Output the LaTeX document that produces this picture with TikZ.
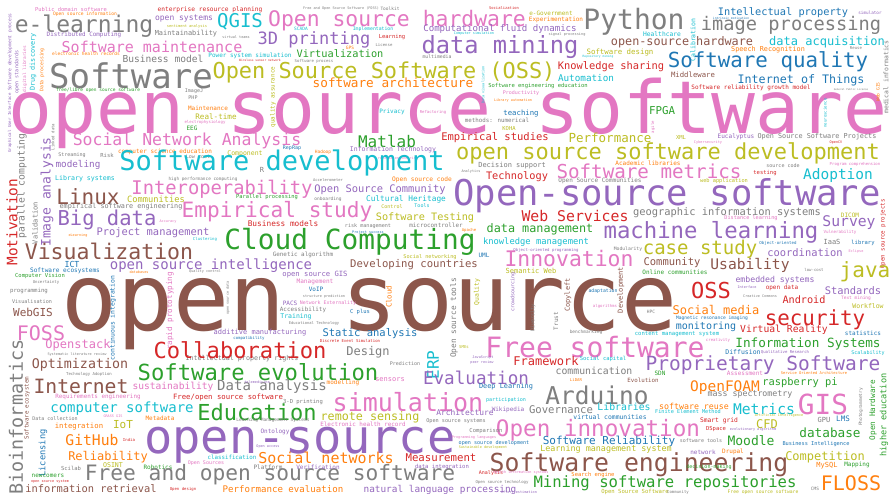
\documentclass[tikz,border=0pt]{standalone}
\usepackage{fontspec}
\setmainfont{DejaVu Sans Mono}
\definecolor{tpink}{HTML}{E377C2}
\definecolor{tbrown}{HTML}{8C564B}
\definecolor{tpurple}{HTML}{9467BD}
\definecolor{tcyan}{HTML}{17BECF}
\definecolor{tolive}{HTML}{BCBD22}
\definecolor{tgrey}{HTML}{7F7F7F}
\definecolor{tgreen}{HTML}{2CA02C}
\definecolor{tred}{HTML}{D62728}
\definecolor{torange}{HTML}{FF7F0E}
\definecolor{tblue}{HTML}{1F77B4}
\newcommand\wsz[1]{\fontsize{#1}{#1}\selectfont}
\tikzset{wd/.style={inner sep=0pt, anchor=center}}
\begin{document}
\begin{tikzpicture}[x=1pt, y=-1pt]
\fill[white] (0,0) rectangle (891,495);
\useasboundingbox (0,0) rectangle (891,495);
% the three largest phrases
\node[wd, tpink, font=\wsz{73}, anchor=base west] (w1) at (8,133) {open source software};
\node[wd, tbrown, font=\wsz{93}, anchor=base west] (w2) at (61,330) {open source};
\node[wd, tpurple, font=\wsz{47}, anchor=base west] (w3) at (144,453) {open-source};
% top band
\node[wd, tpink, font=\wsz{5.4}] (w4) at (71,9) {Public domain software};
\node[wd, torange, font=\wsz{4.6}] (w5) at (85,14) {Open source information};
\node[wd, tred, font=\wsz{6.2}] (w6) at (210,10) {enterprise resource planning};
\node[wd, tgrey, font=\wsz{23}] (w7) at (84,26) {e-learning};
\node[wd, tpurple, font=\wsz{8}] (w8) at (184,19) {open systems};
\node[wd, tolive, font=\wsz{3.7}] (w9) at (187,26) {sentiment analysis};
\node[wd, tpurple, font=\wsz{5.9}] (w10) at (84,35) {Distributed Computing};
\node[wd, tgrey, font=\wsz{6.9}] (w11) at (186,34) {Maintainability};
\node[wd, tpink, font=\wsz{15}] (w12) at (152,47) {Software maintenance};
\node[wd, torange, font=\wsz{4.5}] (w13) at (86,54) {electronic health records};
\node[wd, tgrey, font=\wsz{9.6}] (w14) at (163,59) {Business model};
\node[wd, tcyan, font=\wsz{6}] (w15) at (250,56) {Power system simulation};
\node[wd, tgrey, font=\wsz{34}] (w16) at (131,76) {Software};
\node[wd, tolive, font=\wsz{21.9}] (w17) at (384,72) {Open Source Software (OSS)};
\node[wd, tgreen, font=\wsz{4.5}] (w18) at (98,90) {free/libre open source software};
\node[wd, tgrey, font=\wsz{5}] (w19) at (194,91) {ImageJ};
\node[wd, tgrey, font=\wsz{5}] (w20) at (193,98) {PHP};
\node[wd, torange, font=\wsz{6}] (w21) at (208,108) {Maintenance};
\node[wd, tolive, font=\wsz{7.6}] (w22) at (216,117) {Real-time};
\node[wd, tpink, font=\wsz{4}] (w23) at (205,122) {electrophysiology};
\node[wd, tgreen, font=\wsz{6}] (w24) at (192,128) {EEG};
\node[wd, tpink, font=\wsz{16.5}] (w25) at (187,141) {Social Network Analysis};
\node[wd, torange, font=\wsz{6}] (w26) at (165,152) {computer science education};
\node[wd, tgrey, font=\wsz{5}] (w27) at (198,157) {Low cost};
\node[wd, tgrey, font=\wsz{5}] (w28) at (72,155) {Streaming};
\node[wd, tgrey, font=\wsz{5.5}] (w29) at (107,155) {Risk};
\node[wd, tgrey, font=\wsz{4}, rotate=90] (w30) at (53,137) {Linked data};
\node[wd, tpurple, font=\wsz{9.3}] (w31) at (78,165) {modeling};
\node[wd, tpurple, font=\wsz{4.6}, rotate=90] (w32) at (10,52) {Software development process};
\node[wd, tpurple, font=\wsz{4.1}, rotate=90] (w33) at (10,123) {Graphical User Interface};
\node[wd, tpink, font=\wsz{4.5}, rotate=90] (w34) at (25,69) {digital libraries};
\node[wd, tpurple, font=\wsz{5}, rotate=90] (w35) at (17,72) {open standards};
\node[wd, tcyan, font=\wsz{6.8}, rotate=90] (w36) at (33,62) {Drug discovery};
\node[wd, torange, font=\wsz{4.8}, rotate=90] (w37) at (42,70) {Data processing};
\node[wd, tolive, font=\wsz{5.9}, rotate=90] (w38) at (273,97) {quality assurance};
\node[wd, tpurple, font=\wsz{13}, rotate=90] (w39) at (47,192) {Image analysis};
\node[wd, tgrey, font=\wsz{9.7}, rotate=90] (w40) at (22,186) {parallel computing};
\node[wd, tred, font=\wsz{14.4}, rotate=90] (w41) at (12,222) {Motivation};
\node[wd, tgrey, font=\wsz{7}, rotate=90] (w42) at (35,223) {Validation};
\node[wd, tgrey, font=\wsz{3.5}] (w43) at (341,9) {Free and Open Source Software (FOSS)};
\node[wd, tgrey, font=\wsz{4.5}] (w44) at (390,9) {Toolkit};
\node[wd, tcyan, font=\wsz{19}] (w45) at (240,22) {QGIS};
\node[wd, tpink, font=\wsz{21.4}] (w46) at (397,21) {Open source hardware};
\node[wd, tgrey, font=\wsz{3.5}] (w47) at (236,37) {virtual teams};
\node[wd, tcyan, font=\wsz{4.5}] (w48) at (301,29) {SCADA};
\node[wd, tcyan, font=\wsz{4.8}] (w49) at (373,29) {Implementation};
\node[wd, tpurple, font=\wsz{17}] (w50) at (314,40) {3D printing};
\node[wd, tred, font=\wsz{5.5}] (w51) at (392,37) {Learning};
\node[wd, tpurple, font=\wsz{9.1}] (w52) at (500,29) {Computational fluid dynamics};
\node[wd, tgrey, font=\wsz{4}] (w53) at (384,45) {License};
\node[wd, torange, font=\wsz{4.5}] (w54) at (350,48) {GPS};
\node[wd, tgreen, font=\wsz{10.3}] (w55) at (340,54) {Virtualization};
\node[wd, tgrey, font=\wsz{4}] (w56) at (314,61) {Software process};
\node[wd, tred, font=\wsz{3}] (w57) at (260,60) {Wireless sensor network};
\node[wd, tgrey, font=\wsz{4.8}] (w58) at (437,57) {multimedia};
\node[wd, torange, font=\wsz{12.7}] (w59) at (393,83) {software architecture};
\node[wd, tcyan, font=\wsz{6}] (w60) at (392,112) {Privacy};
\node[wd, tpink, font=\wsz{4}] (w61) at (433,112) {Refactoring};
\node[wd, tgreen, font=\wsz{16}] (w62) at (387,141) {Matlab};
\node[wd, tolive, font=\wsz{6.5}] (w63) at (245,154) {Component};
\node[wd, tblue, font=\wsz{5}] (w64) at (292,148) {RepRap};
\node[wd, torange, font=\wsz{4.5}] (w65) at (323,152) {Hadoop};
\node[wd, tpurple, font=\wsz{6.5}] (w66) at (393,150) {Information Technology};
\node[wd, tpink, font=\wsz{3.5}] (w67) at (398,159) {reverse engineering};
\node[wd, tred, font=\wsz{10.5}] (w68) at (495,138) {Empirical studies};
\node[wd, tcyan, font=\wsz{27}] (w69) at (282,163) {Software development};
\node[wd, tred, font=\wsz{3.8}] (w70) at (504,8) {Socialization};
\node[wd, tolive, font=\wsz{6}] (w71) at (551,13) {e-Government};
\node[wd, torange, font=\wsz{6}] (w72) at (556,20) {Experimentation};
\node[wd, tgrey, font=\wsz{28}] (w73) at (634,22) {Python};
\node[wd, tcyan, font=\wsz{3.5}] (w74) at (474,34) {Computer simulation};
\node[wd, tgrey, font=\wsz{3.6}] (w75) at (567,35) {signal processing};
\node[wd, tcyan, font=\wsz{6.3}] (w76) at (662,34) {Healthcare};
\node[wd, tpurple, font=\wsz{23.7}] (w77) at (500,47) {data mining};
\node[wd, tbrown, font=\wsz{11.8}] (w78) at (682,42) {open-source hardware};
\node[wd, tolive, font=\wsz{7.4}] (w79) at (620,52) {Software design};
\node[wd, tcyan, font=\wsz{3}] (w80) at (598,57) {Repository mining};
\node[wd, tred, font=\wsz{10.4}] (w81) at (611,67) {Knowledge sharing};
\node[wd, tcyan, font=\wsz{9.3}] (w82) at (586,78) {Automation};
\node[wd, tgreen, font=\wsz{5.5}] (w83) at (538,86) {Software engineering education};
\node[wd, tpink, font=\wsz{5}] (w84) at (521,93) {Productivity};
\node[wd, torange, font=\wsz{3.5}] (w85) at (513,101) {Library automation};
\node[wd, tblue, font=\wsz{7.3}] (w86) at (521,114) {teaching};
\node[wd, tgrey, font=\wsz{5.8}] (w87) at (497,120) {methods: numerical};
\node[wd, tgreen, font=\wsz{10.8}] (w88) at (662,111) {FPGA};
\node[wd, tolive, font=\wsz{5.5}] (w89) at (509,128) {KOHA};
\node[wd, tolive, font=\wsz{12.5}] (w90) at (610,138) {Performance};
\node[wd, torange, font=\wsz{6}] (w91) at (648,163) {Academic libraries};
\node[wd, tgrey, font=\wsz{7}] (w92) at (512,166) {Decision support};
\node[wd, tolive, font=\wsz{22}] (w93) at (668,153) {open source software development};
\node[wd, tcyan, font=\wsz{3.5}, rotate=90] (w94) at (483,85) {Data visualization};
\node[wd, tpink, font=\wsz{4}, rotate=90] (w95) at (653,127) {agile};
\node[wd, tblue, font=\wsz{10.3}] (w96) at (783,13) {Intellectual property};
\node[wd, tpurple, font=\wsz{4.3}] (w97) at (870,13) {simulator};
\node[wd, tblue, font=\wsz{3}] (w98) at (731,18) {intrinsic motivation};
\node[wd, tcyan, font=\wsz{6.5}, rotate=90] (w99) at (693,40) {Calibration};
\node[wd, tgrey, font=\wsz{18.7}] (w100) at (791,25) {image processing};
\node[wd, tcyan, font=\wsz{12}] (w101) at (827,42) {data acquisition};
\node[wd, torange, font=\wsz{6.8}] (w102) at (768,50) {Speech Recognition};
\node[wd, tgrey, font=\wsz{4}] (w103) at (856,48) {Reuse};
\node[wd, tgrey, font=\wsz{6.4}, rotate=90] (w104) at (886,77) {medical informatics};
\node[wd, tblue, font=\wsz{20.8}] (w105) at (768,62) {Software quality};
\node[wd, tbrown, font=\wsz{7.3}] (w106) at (693,75) {Middleware};
\node[wd, tblue, font=\wsz{11.7}] (w107) at (801,80) {Internet of Things};
\node[wd, torange, font=\wsz{4.5}, rotate=90] (w108) at (878,92) {Web GIS};
\node[wd, tred, font=\wsz{6}] (w109) at (751,88) {Software reliability growth model};
\node[wd, tolive, font=\wsz{5.5}] (w110) at (681,137) {XML};
\node[wd, tpurple, font=\wsz{6.1}] (w111) at (736,137) {Eucalyptus};
\node[wd, tgrey, font=\wsz{6.8}] (w112) at (817,137) {Open Source Software Projects};
\node[wd, tpink, font=\wsz{3.6}] (w113) at (708,143) {Cybersecurity};
\node[wd, tred, font=\wsz{3.5}] (w114) at (836,143) {OpenCV};
\node[wd, tpink, font=\wsz{4}] (w115) at (855,164) {Program comprehension};
\node[wd, tcyan, font=\wsz{4}, rotate=90] (w116) at (825,113) {neuroscience};
\node[wd, tgrey, font=\wsz{2.6}] (w117) at (851,90) {General Public License};
% left and centre
\node[wd, tcyan, font=\wsz{6.6}] (w118) at (85,179) {Library systems};
\node[wd, tgrey, font=\wsz{4.4}] (w119) at (203,179) {high performance computing};
\node[wd, tbrown, font=\wsz{21}] (w120) at (88,197) {Linux};
\node[wd, tpink, font=\wsz{18.8}] (w121) at (222,189) {Interoperability};
\node[wd, tolive, font=\wsz{8.7}] (w122) at (156,199) {Communities};
\node[wd, tgrey, font=\wsz{6.8}] (w123) at (121,207) {empirical software engineering};
\node[wd, tpink, font=\wsz{21.1}] (w124) at (277,212) {Empirical study};
\node[wd, tpurple, font=\wsz{20.5}] (w125) at (107,220) {Big data};
\node[wd, tpurple, font=\wsz{10.4}] (w126) at (153,233) {Project management};
\node[wd, tbrown, font=\wsz{21.5}] (w127) at (109,251) {Visualization};
\node[wd, tblue, font=\wsz{8.3}] (w128) at (72,264) {ICT};
\node[wd, tpurple, font=\wsz{14}] (w129) at (211,266) {open source intelligence};
\node[wd, tblue, font=\wsz{6.1}] (w130) at (65,271) {Software ecosystems};
\node[wd, tgreen, font=\wsz{5.5}] (w131) at (40,276) {Computer Vision};
\node[wd, tgrey, font=\wsz{4}] (w132) at (46,282) {Uncertainty};
\node[wd, tblue, font=\wsz{6.4}, rotate=90] (w133) at (113,318) {continuous integration};
\node[wd, tpink, font=\wsz{7.6}, rotate=90] (w134) at (170,311) {rapid prototyping};
\node[wd, tgrey, font=\wsz{5.7}] (w135) at (29,291) {programming};
\node[wd, tgrey, font=\wsz{5.1}] (w136) at (32,302) {Visualisation};
\node[wd, tbrown, font=\wsz{11}] (w137) at (33,312) {WebGIS};
\node[wd, tpink, font=\wsz{20}] (w138) at (41,333) {FOSS};
\node[wd, tcyan, font=\wsz{4}] (w139) at (205,239) {Clustering};
\node[wd, tpink, font=\wsz{3.5}] (w140) at (168,222) {Accuracy};
\node[wd, torange, font=\wsz{3.5}] (w141) at (78,236) {eLearning};
\node[wd, torange, font=\wsz{3.5}] (w142) at (139,272) {databases};
\node[wd, tgrey, font=\wsz{3.5}] (w143) at (205,272) {Quality control};
\node[wd, tgrey, font=\wsz{7}] (w144) at (262,170) {R};
\node[wd, tgrey, font=\wsz{3.8}] (w145) at (328,180) {Accelerometer};
\node[wd, torange, font=\wsz{6.2}] (w146) at (422,180) {Open source code};
\node[wd, tpurple, font=\wsz{10.4}] (w147) at (380,190) {Open Source Community};
\node[wd, tgreen, font=\wsz{5.4}] (w148) at (267,197) {Parallel processing};
\node[wd, tgrey, font=\wsz{4.5}] (w149) at (328,199) {onboarding};
\node[wd, tcyan, font=\wsz{7.8}] (w150) at (406,199) {Cultural Heritage};
\node[wd, tolive, font=\wsz{5}] (w151) at (392,207) {Control};
\node[wd, tcyan, font=\wsz{5}] (w152) at (422,206) {Tools};
\node[wd, tolive, font=\wsz{10.2}] (w153) at (425,218) {Software Testing};
\node[wd, tred, font=\wsz{7.8}] (w154) at (283,224) {Business models};
\node[wd, tgrey, font=\wsz{5.1}] (w155) at (368,226) {risk management};
\node[wd, tgrey, font=\wsz{5.9}] (w156) at (436,225) {microcontroller};
\node[wd, tblue, font=\wsz{3.5}] (w157) at (368,233) {Project success};
\node[wd, tgreen, font=\wsz{27.8}] (w158) at (350,242) {Cloud Computing};
\node[wd, tgrey, font=\wsz{5.9}] (w159) at (303,255) {Genetic algorithm};
\node[wd, tolive, font=\wsz{5.2}] (w160) at (430,257) {Social networking};
\node[wd, tbrown, font=\wsz{10.6}] (w161) at (414,265) {Developing countries};
\node[wd, tpurple, font=\wsz{7.2}] (w162) at (315,275) {open source GIS};
\node[wd, tpink, font=\wsz{6.1}] (w163) at (315,282) {Management};
\node[wd, tblue, font=\wsz{6}] (w164) at (316,289) {VoIP};
\node[wd, tgrey, font=\wsz{3.5}] (w165) at (324,297) {structure prediction};
\node[wd, tpurple, font=\wsz{6}] (w166) at (290,303) {PACS};
\node[wd, tpink, font=\wsz{4.9}] (w167) at (328,303) {Network Externality};
\node[wd, tgrey, font=\wsz{5.9}] (w168) at (303,310) {Accessibility};
\node[wd, tcyan, font=\wsz{6.5}] (w169) at (296,317) {Training};
\node[wd, tblue, font=\wsz{5.5}] (w170) at (360,312) {C plus};
\node[wd, tgrey, font=\wsz{3.8}] (w171) at (314,323) {Educational Technology};
\node[wd, torange, font=\wsz{7.3}, rotate=90] (w172) at (389,297) {Cloud};
\node[wd, tgrey, font=\wsz{3.5}, rotate=90] (w173) at (228,298) {open source data};
\node[wd, tred, font=\wsz{10.3}] (w174) at (517,177) {Technology};
\node[wd, tgrey, font=\wsz{6}] (w175) at (600,181) {Open Source Communities};
\node[wd, tpink, font=\wsz{19.2}] (w176) at (649,171) {Software metrics};
\node[wd, tpurple, font=\wsz{35.5}] (w177) at (667,196) {Open-source software};
\node[wd, tred, font=\wsz{14.8}] (w178) at (575,216) {Web Services};
\node[wd, tgrey, font=\wsz{10.4}] (w179) at (727,213) {geographic information systems};
\node[wd, tgreen, font=\wsz{11.8}] (w180) at (540,229) {data management};
\node[wd, tpurple, font=\wsz{22.3}] (w181) at (711,232) {machine learning};
\node[wd, tcyan, font=\wsz{8.8}] (w182) at (536,242) {knowledge management};
\node[wd, tpurple, font=\wsz{4}] (w183) at (546,250) {Object-oriented programming};
\node[wd, tgrey, font=\wsz{4.7}] (w184) at (628,249) {Modularity};
\node[wd, tblue, font=\wsz{6}] (w185) at (484,255) {UML};
\node[wd, tolive, font=\wsz{19}] (w186) at (700,249) {case study};
\node[wd, tpink, font=\wsz{21.4}] (w187) at (569,259) {Innovation};
\node[wd, tbrown, font=\wsz{10.5}] (w188) at (672,263) {Community};
\node[wd, tolive, font=\wsz{7}] (w189) at (531,271) {Semantic Web};
\node[wd, tgreen, font=\wsz{6}] (w190) at (675,272) {Online communities};
\node[wd, tolive, font=\wsz{6.4}, rotate=90] (w191) at (477,292) {Quality};
\node[wd, tgrey, font=\wsz{7.8}, rotate=90] (w192) at (454,318) {Open source tools};
\node[wd, tpurple, font=\wsz{5}, rotate=90] (w193) at (513,292) {crowdsourcing};
\node[wd, tbrown, font=\wsz{6.9}, rotate=90] (w194) at (568,295) {Copyleft};
\node[wd, tbrown, font=\wsz{7}, rotate=90] (w195) at (621,290) {Development};
\node[wd, tblue, font=\wsz{4.8}] (w196) at (603,291) {adaptation};
\node[wd, tgrey, font=\wsz{6}, rotate=90] (w197) at (556,321) {Trust};
\node[wd, tgrey, font=\wsz{5}, rotate=90] (w198) at (533,318) {Diversity};
\node[wd, tpink, font=\wsz{4}] (w199) at (605,306) {algorithms};
\node[wd, tgrey, font=\wsz{4.5}] (w200) at (651,312) {HPC};
\node[wd, torange, font=\wsz{4}] (w201) at (469,230) {Apache};
\node[wd, tgrey, font=\wsz{3.5}] (w202) at (471,172) {Analytics};
% right side
\node[wd, tred, font=\wsz{5.5}] (w203) at (765,173) {testing};
\node[wd, tgrey, font=\wsz{5}] (w204) at (783,166) {source code};
\node[wd, tcyan, font=\wsz{14.5}] (w205) at (838,175) {Adoption};
\node[wd, tolive, font=\wsz{5.3}] (w206) at (724,181) {web application};
\node[wd, tolive, font=\wsz{6}] (w207) at (850,215) {DICOM};
\node[wd, tpink, font=\wsz{5.2}] (w208) at (751,218) {Distance learning};
\node[wd, tpurple, font=\wsz{14.7}] (w209) at (849,223) {Survey};
\node[wd, tpink, font=\wsz{4.2}] (w210) at (840,232) {Vulnerability};
\node[wd, tblue, font=\wsz{4.1}] (w211) at (778,243) {Object-oriented};
\node[wd, tgrey, font=\wsz{7}] (w212) at (832,242) {IaaS};
\node[wd, tblue, font=\wsz{5.5}] (w213) at (863,243) {library};
\node[wd, tpink, font=\wsz{3.5}] (w214) at (856,252) {Eclipse};
\node[wd, tred, font=\wsz{5.8}, rotate=90] (w215) at (883,234) {Open source projects};
\node[wd, tpurple, font=\wsz{10.4}] (w216) at (805,253) {coordination};
\node[wd, tbrown, font=\wsz{14.6}] (w217) at (750,265) {Usability};
\node[wd, tgrey, font=\wsz{4}] (w218) at (814,270) {low-cost};
\node[wd, tolive, font=\wsz{21}] (w219) at (865,272) {java};
\node[wd, tpurple, font=\wsz{8.2}] (w220) at (775,280) {embedded systems};
\node[wd, tred, font=\wsz{22}] (w221) at (711,290) {OSS};
\node[wd, tred, font=\wsz{6}] (w222) at (782,288) {open data};
\node[wd, tpurple, font=\wsz{10.4}] (w223) at (853,291) {Standards};
\node[wd, tred, font=\wsz{10.2}] (w224) at (804,300) {Android};
\node[wd, tpink, font=\wsz{4.5}] (w225) at (856,298) {Text mining};
\node[wd, tolive, font=\wsz{6.5}] (w226) at (868,306) {Workflow};
\node[wd, torange, font=\wsz{12}] (w227) at (716,310) {Social media};
\node[wd, tred, font=\wsz{20.8}] (w228) at (815,320) {security};
\node[wd, tblue, font=\wsz{4.6}] (w229) at (712,318) {Magnetic resonance imaging};
\node[wd, tblue, font=\wsz{10}] (w230) at (706,327) {monitoring};
\node[wd, tred, font=\wsz{9.7}] (w231) at (784,330) {Virtual Reality};
\node[wd, tgrey, font=\wsz{3.5}] (w232) at (760,296) {Creative Commons};
\node[wd, tpurple, font=\wsz{3.5}] (w233) at (747,287) {Interface};
% bottom band
\node[wd, tpink, font=\wsz{12}] (w234) at (78,345) {Openstack};
\node[wd, tgrey, font=\wsz{3.5}] (w235) at (77,355) {Systematic literature review};
\node[wd, tgrey, font=\wsz{18.4}, rotate=90] (w236) at (16,417) {Bioinformatics};
\node[wd, tbrown, font=\wsz{13.3}] (w237) at (80,365) {Optimization};
\node[wd, tgrey, font=\wsz{4}] (w238) at (89,374) {Technology Adoption};
\node[wd, tgrey, font=\wsz{6.7}] (w239) at (242,359) {Intellectual property rights};
\node[wd, tpurple, font=\wsz{7}] (w240) at (260,333) {additive manufacturing};
\node[wd, tred, font=\wsz{22.1}] (w241) at (240,350) {Collaboration};
\node[wd, tgreen, font=\wsz{22.2}] (w242) at (258,372) {Software evolution};
\node[wd, tbrown, font=\wsz{19.7}] (w243) at (81,386) {Internet};
\node[wd, tpink, font=\wsz{9.6}] (w244) at (173,387) {sustainability};
\node[wd, tgrey, font=\wsz{14}] (w245) at (272,387) {Data analysis};
\node[wd, tpink, font=\wsz{5.9}] (w246) at (98,397) {Requirements engineering};
\node[wd, tred, font=\wsz{7.3}] (w247) at (228,397) {Free/open source software};
\node[wd, tcyan, font=\wsz{14}] (w248) at (122,409) {computer software};
\node[wd, tgreen, font=\wsz{22}] (w249) at (257,412) {Education};
\node[wd, tbrown, font=\wsz{5.8}, rotate=90] (w250) at (27,408) {Software ecosystem};
\node[wd, tgrey, font=\wsz{5}] (w251) at (55,419) {Data collection};
\node[wd, tpink, font=\wsz{3.5}] (w252) at (113,416) {GRASS GIS};
\node[wd, torange, font=\wsz{6}] (w253) at (160,418) {Metadata};
\node[wd, torange, font=\wsz{7.3}] (w254) at (79,427) {integration};
\node[wd, tolive, font=\wsz{11}] (w255) at (123,425) {IoT};
\node[wd, torange, font=\wsz{14.7}] (w256) at (92,440) {GitHub};
\node[wd, tred, font=\wsz{4}] (w257) at (129,440) {India};
\node[wd, tblue, font=\wsz{8.7}, rotate=90] (w258) at (43,453) {Licensing};
\node[wd, torange, font=\wsz{12}] (w259) at (108,457) {Reliability};
\node[wd, tcyan, font=\wsz{5.8}] (w260) at (232,457) {classification};
\node[wd, tolive, font=\wsz{6.6}] (w261) at (113,465) {OSINT};
\node[wd, tgrey, font=\wsz{5.5}] (w262) at (71,468) {Scilab};
\node[wd, tgreen, font=\wsz{6}] (w263) at (158,467) {Robotics};
\node[wd, tpink, font=\wsz{5}] (w264) at (206,463) {Open Sources};
\node[wd, tgrey, font=\wsz{21.2}] (w265) at (270,475) {Free and open source software};
\node[wd, tgreen, font=\wsz{6}] (w266) at (48,476) {newcomers};
\node[wd, tred, font=\wsz{3.5}] (w267) at (50,482) {open source system};
\node[wd, tbrown, font=\wsz{10.4}] (w268) at (91,489) {information retrieval};
\node[wd, tred, font=\wsz{4}] (w269) at (183,489) {Open design};
\node[wd, tpurple, font=\wsz{3.5}] (w270) at (257,382) {telemedicine};
\node[wd, tblue, font=\wsz{4}] (w271) at (249,338) {compatibility};
\node[wd, tblue, font=\wsz{10.5}] (w272) at (370,334) {Static analysis};
\node[wd, tred, font=\wsz{4}] (w273) at (350,341) {Discrete Event Simulation};
\node[wd, tgrey, font=\wsz{12}] (w274) at (368,352) {Design};
\node[wd, tcyan, font=\wsz{16}, rotate=90] (w275) at (433,365) {ERP};
\node[wd, tgrey, font=\wsz{5}] (w276) at (405,364) {Prediction};
\node[wd, tpurple, font=\wsz{17.6}] (w277) at (476,378) {Evaluation};
\node[wd, tpink, font=\wsz{7}] (w278) at (390,380) {sensors};
\node[wd, torange, font=\wsz{6}] (w279) at (343,383) {modelling};
\node[wd, tgrey, font=\wsz{5.5}] (w280) at (303,402) {3-D printing};
\node[wd, tpink, font=\wsz{25}] (w281) at (408,402) {simulation};
\node[wd, tolive, font=\wsz{11.7}] (w282) at (370,417) {remote sensing};
\node[wd, tgrey, font=\wsz{4.5}] (w283) at (273,420) {Learning Management Systems};
\node[wd, tpink, font=\wsz{5.9}] (w284) at (363,424) {Electronic health record};
\node[wd, tpurple, font=\wsz{7.9}] (w285) at (465,413) {Architecture};
\node[wd, tgrey, font=\wsz{5.2}] (w286) at (456,421) {Open source systems};
\node[wd, tpurple, font=\wsz{6}] (w287) at (275,432) {Ontology};
\node[wd, tpurple, font=\wsz{3.5}] (w288) at (268,447) {Open access};
\node[wd, torange, font=\wsz{15}] (w289) at (326,458) {Social networks};
\node[wd, tred, font=\wsz{10.7}] (w290) at (441,458) {Measurement};
\node[wd, tgrey, font=\wsz{6}] (w291) at (268,467) {Platform};
\node[wd, tpurple, font=\wsz{6}] (w292) at (318,467) {Verification};
\node[wd, tpurple, font=\wsz{5.6}] (w293) at (442,467) {data integration};
\node[wd, torange, font=\wsz{9.1}] (w294) at (283,489) {Performance evaluation};
\node[wd, tpurple, font=\wsz{9.4}] (w295) at (440,490) {natural language processing};
\node[wd, tolive, font=\wsz{4}] (w296) at (464,347) {SMEs};
\node[wd, tpink, font=\wsz{28}] (w297) at (595,347) {Free software};
\node[wd, tpurple, font=\wsz{3.5}] (w298) at (483,358) {JavaScript};
\node[wd, tpurple, font=\wsz{3.5}] (w299) at (482,363) {peer review};
\node[wd, tred, font=\wsz{12}] (w300) at (546,361) {Framework};
\node[wd, tcyan, font=\wsz{5.5}] (w301) at (603,359) {Social capital};
\node[wd, tgrey, font=\wsz{4.5}] (w302) at (586,332) {benchmarking};
\node[wd, tcyan, font=\wsz{5.6}] (w303) at (677,334) {content management system};
\node[wd, tpurple, font=\wsz{19.5}] (w304) at (763,365) {Proprietary Software};
\node[wd, tgrey, font=\wsz{9.8}] (w305) at (594,371) {communication};
\node[wd, tgreen, font=\wsz{6}] (w306) at (660,373) {SDN};
\node[wd, tbrown, font=\wsz{5.8}] (w307) at (643,380) {Evolution};
\node[wd, torange, font=\wsz{4}] (w308) at (576,380) {LiDAR};
\node[wd, tgrey, font=\wsz{24.5}] (w309) at (597,395) {Arduino};
\node[wd, tblue, font=\wsz{6.9}] (w310) at (506,387) {Deep Learning};
\node[wd, tcyan, font=\wsz{5.1}] (w311) at (506,400) {participation};
\node[wd, tpurple, font=\wsz{6}] (w312) at (508,410) {Wikipedia};
\node[wd, tgrey, font=\wsz{10.6}] (w313) at (561,410) {Governance};
\node[wd, tcyan, font=\wsz{9.8}] (w314) at (624,407) {Libraries};
\node[wd, tblue, font=\wsz{6.4}] (w315) at (610,417) {virtual communities};
\node[wd, tpink, font=\wsz{22.6}] (w316) at (598,430) {Open innovation};
\node[wd, tgrey, font=\wsz{5.5}] (w317) at (486,431) {Comparison};
\node[wd, tpink, font=\wsz{3.5}] (w318) at (474,438) {Programming languages};
\node[wd, tblue, font=\wsz{5.1}] (w319) at (494,443) {open source development};
\node[wd, tolive, font=\wsz{3.5}] (w320) at (483,448) {Sustainable development};
\node[wd, tblue, font=\wsz{11}] (w321) at (609,441) {Software Reliability};
\node[wd, tolive, font=\wsz{8.4}] (w322) at (606,449) {Learning management system};
\node[wd, tbrown, font=\wsz{24.8}] (w323) at (639,465) {Software engineering};
\node[wd, tred, font=\wsz{5}] (w324) at (491,473) {Analysis};
\node[wd, tpink, font=\wsz{3.5}] (w325) at (521,473) {Health information systems};
\node[wd, torange, font=\wsz{5.5}] (w326) at (593,475) {Search engine};
\node[wd, tgrey, font=\wsz{4}] (w327) at (502,482) {Open source technology};
\node[wd, tgreen, font=\wsz{15.6}] (w328) at (665,483) {Mining software repositories};
\node[wd, tpurple, font=\wsz{3.5}] (w329) at (519,492) {effort estimation};
\node[wd, tolive, font=\wsz{5.6}] (w330) at (635,492) {Open Source Software};
\node[wd, tpink, font=\wsz{4}] (w331) at (718,340) {creativity};
\node[wd, tblue, font=\wsz{6}] (w332) at (863,333) {statistics};
\node[wd, tgreen, font=\wsz{12.7}] (w333) at (808,344) {Information Systems};
\node[wd, tblue, font=\wsz{6.5}] (w334) at (743,352) {Diffusion};
\node[wd, tpurple, font=\wsz{4}] (w335) at (785,352) {Qualitative Research};
\node[wd, tcyan, font=\wsz{5}] (w336) at (868,353) {Scalability};
\node[wd, tpink, font=\wsz{6}] (w337) at (745,373) {Assessment};
\node[wd, torange, font=\wsz{3.8}] (w338) at (814,373) {Service Oriented Architecture};
\node[wd, torange, font=\wsz{14.5}] (w339) at (725,388) {OpenFOAM};
\node[wd, tgreen, font=\wsz{10.4}] (w340) at (800,383) {raspberry pi};
\node[wd, tgrey, font=\wsz{8.3}] (w341) at (750,394) {mass spectrometry};
\node[wd, tgrey, font=\wsz{4.5}, rotate=90] (w342) at (861,407) {Photogrammetry};
\node[wd, tgreen, font=\wsz{7.7}, rotate=90] (w343) at (873,410) {Open Hardware};
\node[wd, tgreen, font=\wsz{8.6}, rotate=90] (w344) at (884,415) {higher education};
\node[wd, tpink, font=\wsz{27.7}] (w345) at (823,404) {GIS};
\node[wd, torange, font=\wsz{8.3}] (w346) at (694,406) {software reuse};
\node[wd, tcyan, font=\wsz{5.2}] (w347) at (688,412) {Finite Element Method};
\node[wd, tcyan, font=\wsz{14.7}] (w348) at (764,409) {Metrics};
\node[wd, tolive, font=\wsz{3.5}] (w349) at (779,416) {Artificial Intelligence};
\node[wd, tred, font=\wsz{6.3}] (w350) at (719,421) {Smart grid};
\node[wd, tolive, font=\wsz{12}] (w351) at (767,424) {CFD};
\node[wd, tgrey, font=\wsz{7}] (w352) at (824,420) {GPU};
\node[wd, tblue, font=\wsz{7.5}] (w353) at (843,419) {LMS};
\node[wd, tred, font=\wsz{5.5}] (w354) at (716,429) {DSpace};
\node[wd, tpurple, font=\wsz{3.5}] (w355) at (753,430) {evolutionary algorithm};
\node[wd, tgreen, font=\wsz{12.7}] (w356) at (830,433) {database};
\node[wd, tgreen, font=\wsz{13}] (w357) at (751,441) {Moodle};
\node[wd, tgrey, font=\wsz{5}] (w358) at (701,441) {software tools};
\node[wd, tblue, font=\wsz{5.3}] (w359) at (816,444) {Business Intelligence};
\node[wd, tpurple, font=\wsz{6}] (w360) at (703,452) {network};
\node[wd, torange, font=\wsz{6}] (w361) at (733,452) {Drupal};
\node[wd, tolive, font=\wsz{12}] (w362) at (825,457) {Competition};
\node[wd, torange, font=\wsz{7}] (w363) at (827,466) {MySQL};
\node[wd, tgreen, font=\wsz{6}] (w364) at (857,465) {Mapping};
\node[wd, tgreen, font=\wsz{5}] (w365) at (709,467) {decision-making};
\node[wd, torange, font=\wsz{20}] (w366) at (851,483) {FLOSS};
\node[wd, tgrey, font=\wsz{4.5}] (w367) at (815,489) {CMS};
\node[wd, tgrey, font=\wsz{4}] (w368) at (678,492) {Community};
\node[wd, tolive, font=\wsz{4.7}] (w369) at (763,492) {Free open source software};
\end{tikzpicture}
\end{document}
